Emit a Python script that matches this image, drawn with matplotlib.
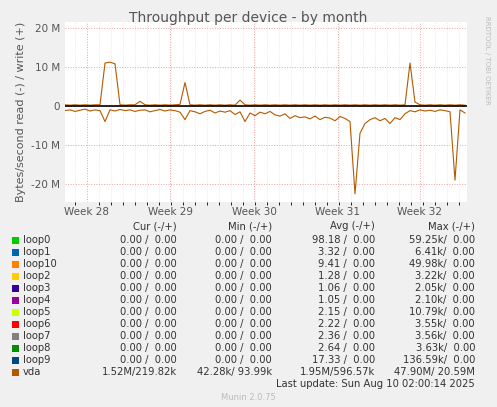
import matplotlib.pyplot as plt
import matplotlib.ticker as mticker

# sample positions (pixel columns of the original graph, every 5 px)
px = list(range(65, 470, 5))

read_M = [-1.2, -1.0, -1.4, -1.1, -0.8, -1.3, -1.0, -1.2, -4.0, -1.0, -1.3, -0.9, -1.2, -1.0, -1.4, -1.1,
          -1.0, -1.5, -1.2, -0.9, -1.3, -1.0, -1.2, -1.6, -3.5, -1.2, -1.5, -2.0, -1.4, -1.1, -1.8, -1.3,
          -1.6, -1.2, -2.2, -1.5, -4.0, -1.8, -2.5, -1.6, -2.0, -1.4, -2.3, -2.6, -2.0, -3.2, -2.5, -3.0,
          -2.8, -3.3, -2.6, -3.5, -2.9, -3.1, -3.8, -2.7, -3.2, -4.0, -22.5, -7.0, -4.5, -3.5, -3.0, -3.8,
          -3.2, -4.5, -3.0, -3.5, -2.0, -1.2, -1.5, -1.0, -1.3, -1.1, -1.4, -1.0, -1.2, -1.5, -19.0, -1.0, -1.8]
write_M = [0.3, 0.2, 0.3, 0.2, 0.3, 0.2, 0.3, 0.3, 11.0, 11.2, 10.8, 0.3, 0.2, 0.3, 0.3, 1.2,
           0.3, 0.2, 0.3, 0.2, 0.3, 0.2, 0.3, 0.4, 6.0, 0.3, 0.2, 0.3, 0.2, 0.3, 0.2, 0.3,
           0.2, 0.3, 0.2, 1.5, 0.3, 0.2, 0.3, 0.2, 0.3, 0.2, 0.3, 0.2, 0.3, 0.2, 0.3, 0.2,
           0.3, 0.2, 0.3, 0.2, 0.3, 0.2, 0.3, 0.2, 0.3, 0.2, 0.3, 0.2, 0.3, 0.2, 0.3, 0.2,
           0.3, 0.2, 0.3, 0.2, 0.3, 11.0, 1.0, 0.3, 0.2, 0.3, 0.2, 0.3, 0.2, 0.3, 0.2, 0.3, 0.2]

week_labels = ["Week 28", "Week 29", "Week 30", "Week 31", "Week 32"]
week_px = [87, 170, 254, 338, 420]

names = ["loop0", "loop1", "loop10", "loop2", "loop3", "loop4", "loop5", "loop6", "loop7", "loop8", "loop9", "vda"]
colors = ["#00CC00", "#0066B3", "#FF8000", "#FFCC00", "#330099", "#990099", "#CCFF00", "#FF0000",
          "#808080", "#008F00", "#00487D", "#B35A00"]
cur = ["0.00 /  0.00"] * 11 + ["1.52M/219.82k"]
mins = ["0.00 /  0.00"] * 11 + ["42.28k/ 93.99k"]
avgs = ["98.18 /  0.00", "3.32 /  0.00", "9.41 /  0.00", "1.28 /  0.00", "1.06 /  0.00", "1.05 /  0.00",
        "2.15 /  0.00", "2.22 /  0.00", "2.36 /  0.00", "2.64 /  0.00", "17.33 /  0.00", "1.95M/596.57k"]
maxs = ["59.25k/  0.00", "6.41k/  0.00", "49.98k/  0.00", "3.22k/  0.00", "2.05k/  0.00", "2.10k/  0.00",
        "10.79k/  0.00", "3.55k/  0.00", "3.56k/  0.00", "3.63k/  0.00", "136.59k/  0.00", "47.90M/ 20.59M"]

W, H = 497, 407
fig = plt.figure(figsize=(W / 100, H / 100), dpi=100, facecolor="#F0F0F0")
ax = fig.add_axes([65 / W, 1 - 202 / H, (467 - 65) / W, (202 - 22) / H])
ax.set_facecolor("white")

x = [p for p in px]
ax.plot(x, [v * 1e6 for v in read_M], color="#B35A00", lw=0.8)
ax.plot(x, [v * 1e6 for v in write_M], color="#B35A00", lw=0.8)
ax.axhline(0, color="black", lw=1.2)

ax.set_xlim(65, 467)
ax.set_ylim(-24.6e6, 21.5e6)
ax.set_yticks([-20e6, -10e6, 0, 10e6, 20e6])
ax.yaxis.set_major_formatter(mticker.FuncFormatter(lambda v, p: "0" if v == 0 else f"{v/1e6:.0f} M"))
ax.set_xticks(week_px)
ax.set_xticklabels(week_labels)
ax.set_xticks([p for p in range(75, 467, 12)], minor=True)
ax.grid(True, which="major", color="#E8A0A0", ls=":", lw=0.7)
ax.grid(True, which="minor", axis="x", color="#DDDDDD", ls=":", lw=0.5)
ax.tick_params(labelsize=7.5, colors="#555555", length=0)
for s in ax.spines.values():
    s.set_visible(False)
ax.set_ylabel("Bytes/second read (-) / write (+)", fontsize=8, color="#555555")

fig.text(0.5, 1 - 18 / H, "Throughput per device - by month", ha="center", va="center", fontsize=10, color="#555555")
fig.text(487 / W, 1 - 60 / H, "RRDTOOL / TOBI OETIKER", rotation=270, ha="center", va="center", fontsize=5, color="#BBBBBB")

fs = 7.2
def fy(y):
    return 1 - y / H

for txt, xr in [("Cur (-/+)", 177), ("Min (-/+)", 272), ("Avg (-/+)", 375), ("Max (-/+)", 475)]:
    fig.text(xr / W, fy(226), txt, ha="right", va="center", fontsize=fs, color="#333333")
for i, n in enumerate(names):
    y = 240 + i * 12
    fig.patches.append(plt.Rectangle((12 / W, fy(y) - 3.5 / H), 7 / W, 7 / H, transform=fig.transFigure,
                                     facecolor=colors[i], edgecolor="none"))
    fig.text(23 / W, fy(y), n, ha="left", va="center", fontsize=fs, color="#333333")
    for col, xr in [(cur, 177), (mins, 272), (avgs, 375), (maxs, 475)]:
        fig.text(xr / W, fy(y), col[i], ha="right", va="center", fontsize=fs, color="#333333")
fig.text(475 / W, fy(384), "Last update: Sun Aug 10 02:00:14 2025", ha="right", va="center", fontsize=fs, color="#333333")
fig.text(0.5, fy(397), "Munin 2.0.75", ha="center", va="center", fontsize=6, color="#BBBBBB")

fig.savefig("out.png", dpi=100, facecolor=fig.get_facecolor())
